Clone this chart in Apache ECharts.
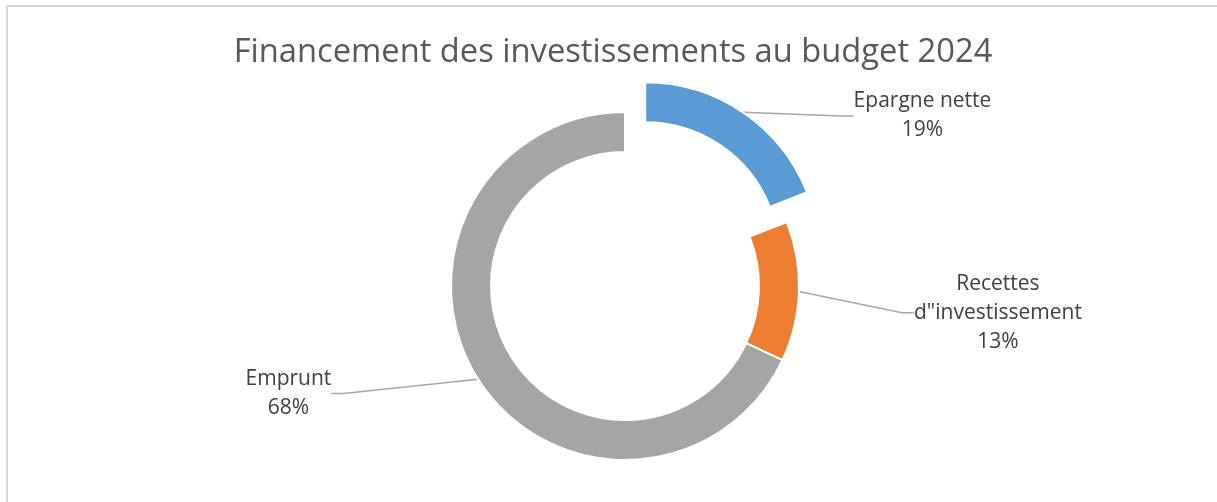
<!DOCTYPE html>
<html>
<head>
    <meta charset="utf-8">
    <title>Financement des investissements au budget 2024</title>
    <script src="https://cdn.jsdelivr.net/npm/echarts@6/dist/echarts.min.js"></script>
    <style>
        body { margin: 0; background: #fff; }
        #frame { position: absolute; left: 6px; top: 5px; width: 1220px; height: 500px;
                 border-top: 2px solid #d9d9d9; border-left: 2px solid #d9d9d9; }
        #main { position: absolute; left: 0; top: 0; width: 1217px; height: 502px; }
    </style>
</head>
<body>
<div id="frame"></div>
<div id="main"></div>
<script type="text/javascript">
    // donnees (en %)
    var categories = ['Epargne nette', 'Recettes d"investissement', 'Emprunt'];
    var values = [19, 13, 68];
    var colors = ['#5b9bd5', '#ed7d31', '#a5a5a5'];
    // libelles affiches (retour a la ligne comme dans l'original)
    var labelTexts = ['Epargne nette', 'Recettes\nd"investissement', 'Emprunt'];
    var exploded = 0;   // la part detachee

    // position du centre des etiquettes (fraction de la largeur / hauteur)
    var labelPos = [[0.758, 0.231], [0.820, 0.623], [0.237, 0.784]];

    var myChart = echarts.init(document.getElementById('main'));

    var cx = 625, cy = 286, explode = 36;
    var total = values.reduce(function (a, b) { return a + b; }, 0);
    var before = values.slice(0, exploded).reduce(function (a, b) { return a + b; }, 0);
    var mid = (before + values[exploded] / 2) / total * 2 * Math.PI;
    var ecx = cx + explode * Math.sin(mid);
    var ecy = cy - explode * Math.cos(mid);

    // une serie par "couche" : le reste du donut, puis la part detachee
    function buildData(visible) {
        return categories.map(function (name, i) {
            var show = visible(i);
            return {
                name: name,
                value: values[i],
                itemStyle: show ? { color: colors[i] } : { color: 'transparent', borderWidth: 0 },
                label: { show: show },
                labelLine: { show: show }
            };
        });
    }

    var baseSeries = {
        type: 'pie',
        radius: [134, 174],
        startAngle: 90,
        clockwise: true,
        avoidLabelOverlap: false,
        silent: true,
        emphasis: { disabled: true },
        itemStyle: {
            borderColor: '#fff',
            borderWidth: 2
        },
        label: {
            position: 'outside',
            formatter: function (p) {
                return labelTexts[p.dataIndex] + '\n' + Math.round(p.percent) + '%';
            },
            color: '#404040',
            fontSize: 21,
            lineHeight: 29,
            fontFamily: 'Open Sans',
            align: 'center'
        },
        labelLine: {
            length: 10,
            length2: 12,
            lineStyle: { color: '#a6a6a6', width: 1.5 }
        },
        labelLayout: function (params) {
            var pos = labelPos[params.dataIndex];
            return {
                x: pos[0] * 1217,
                y: pos[1] * 502,
                align: 'center',
                verticalAlign: 'middle'
            };
        }
    };

    myChart.setOption({
        animation: false,
        title: {
            text: 'Financement des investissements au budget 2024',
            left: 608,
            textAlign: 'center',
            top: 31,
            textStyle: {
                color: '#595959',
                fontSize: 32.7,
                fontWeight: 'normal',
                fontFamily: 'Open Sans'
            }
        },
        series: [
            Object.assign({}, baseSeries, {
                center: [cx, cy],
                data: buildData(function (i) { return i !== exploded; })
            }),
            Object.assign({}, baseSeries, {
                center: [ecx, ecy],
                data: buildData(function (i) { return i === exploded; })
            })
        ]
    });
</script>
</body>
</html>
